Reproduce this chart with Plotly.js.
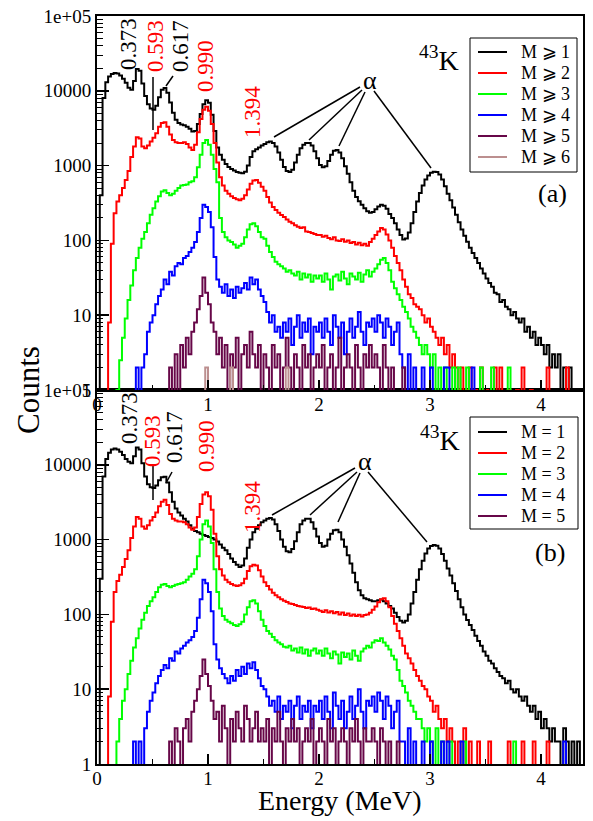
<!DOCTYPE html>
<html><head><meta charset="utf-8">
<script src="https://cdn.plot.ly/plotly-3.0.1.min.js"></script>
<style>html,body{margin:0;padding:0;background:#fff;} #chart{width:593px;height:821px;}</style>
</head><body><div id="chart"></div>
<script>
// Energy bins (MeV)
const energy = [
0,0.025,0.05,0.075,0.1,0.125,0.15,0.175,0.2,0.225,0.25,0.275,0.3,0.325,0.35,0.375,0.4,0.425,0.45,0.475,
0.5,0.525,0.55,0.575,0.6,0.625,0.65,0.675,0.7,0.725,0.75,0.775,0.8,0.825,0.85,0.875,0.9,0.925,0.95,0.975,
1,1.025,1.05,1.075,1.1,1.125,1.15,1.175,1.2,1.225,1.25,1.275,1.3,1.325,1.35,1.375,1.4,1.425,1.45,1.475,
1.5,1.525,1.55,1.575,1.6,1.625,1.65,1.675,1.7,1.725,1.75,1.775,1.8,1.825,1.85,1.875,1.9,1.925,1.95,1.975,
2,2.025,2.05,2.075,2.1,2.125,2.15,2.175,2.2,2.225,2.25,2.275,2.3,2.325,2.35,2.375,2.4,2.425,2.45,2.475,
2.5,2.525,2.55,2.575,2.6,2.625,2.65,2.675,2.7,2.725,2.75,2.775,2.8,2.825,2.85,2.875,2.9,2.925,2.95,2.975,
3,3.025,3.05,3.075,3.1,3.125,3.15,3.175,3.2,3.225,3.25,3.275,3.3,3.325,3.35,3.375,3.4,3.425,3.45,3.475,
3.5,3.525,3.55,3.575,3.6,3.625,3.65,3.675,3.7,3.725,3.75,3.775,3.8,3.825,3.85,3.875,3.9,3.925,3.95,3.975,
4,4.025,4.05,4.075,4.1,4.125,4.15,4.175,4.2,4.225,4.25,4.275,4.3,4.325,4.35,4.375,4.4];

// ---- panel (a): M >= k  (0.1 = empty bin, below axis) ----
const topM1 = [
0.1,400,8000,13000,15500,16800,17300,17000,16000,14500,12800,11000,10300,13500,19500,18500,12500,8500,6600,5800,
5600,6300,8200,10300,10900,9400,7000,5100,4100,3700,3550,3450,3300,3100,2850,2900,3600,4900,6600,7500,
6900,4800,2900,1750,1400,1200,1050,960,900,860,820,800,790,830,1000,1300,1550,1650,1750,1850,
1950,2050,2100,2000,1800,1500,1200,960,850,820,880,1100,1400,1700,1900,2000,2000,1850,1550,1250,
1020,950,980,1150,1400,1580,1620,1500,1250,980,780,600,460,380,335,300,270,245,235,240,
260,285,300,290,265,225,200,170,140,118,103,106,128,170,240,330,430,540,650,740,
800,830,820,760,650,530,420,345,275,220,175,140,115,96,80,68,58,50,42,36,
31,27,24,20,19,15,16,13,12,10,11,9,8,9,6,7,5,6,4,5,
4,3,4,2,3,2,3,1,2,1,2,0.1,1,1,0.1,1,0.1];
const topM2 = [
0.1,0.1,0.1,0.1,8,90,230,330,400,500,640,850,1300,1800,2400,2300,1800,1700,1850,2100,
2350,2700,3300,3700,3800,3300,2600,2200,2050,2000,2000,2050,1950,1750,1620,1900,2800,4200,5600,6100,
5400,3600,2000,1100,700,540,460,420,390,370,355,345,360,400,480,570,630,640,590,520,
460,380,320,280,255,235,218,205,190,178,170,160,152,146,150,132,130,126,122,118,
118,112,115,108,104,110,100,98,104,96,100,92,95,88,93,86,90,85,95,105,
118,132,146,140,120,100,80,62,50,40,30,24,19,17,14,13,12,10,8,9,
7,6,5,4,5,3,4,2,3,2,1,2,0.1,1,2,0.1,1,0.1,2,0.1,
1,0.1,0.1,2,0.1,2,0.1,0.1,1,0.1,0.1,1,0.1,2,0.1,0.1,1,0.1,0.1,0.1,
0.1,0.1,2,0.1,0.1,0.1,0.1,0.1,0.1,2,0.1,0.1,0.1,0.1,0.1,0.1,0.1];
const topM3 = [
0.1,0.1,0.1,0.1,0.1,0.1,0.1,1,2.5,5,9,16,25,40,58,80,105,130,170,220,
270,330,390,450,470,430,400,420,460,500,540,550,560,600,620,700,950,1400,2000,2200,
1900,1400,900,600,200,130,110,100,95,88,80,85,90,110,140,165,170,155,130,110,
105,85,70,60,52,48,45,42,38,40,36,34,38,30,36,32,35,28,34,31,
34,28,36,30,22,33,35,29,38,31,26,36,33,30,37,28,35,40,33,38,
42,48,55,58,50,40,28,23,19,16,13,11,9,7,6,5,4,3,4,3,
2,3,0.1,2,0.1,2,0.1,0.1,2,0.1,2,0.1,0.1,2,0.1,0.1,0.1,0.1,2,0.1,
0.1,0.1,2,0.1,0.1,0.1,0.1,0.1,2,0.1,0.1,0.1,0.1,0.1,0.1,0.1,0.1,0.1,0.1,0.1,
0.1,0.1,0.1,0.1,0.1,0.1,0.1,0.1,0.1,0.1,0.1,0.1,0.1,0.1,0.1,0.1,0.1];
const topM4 = [
0.1,0.1,0.1,0.1,0.1,0.1,0.1,0.1,0.1,0.1,0.1,0.1,0.1,0.1,2,0.1,2,3,6,8,
10,14,18,22,30,26,38,34,45,50,48,58,62,70,80,95,130,200,300,280,
240,150,60,30,24,20,26,18,22,17,24,20,23,27,22,32,26,30,22,18,
15,11,8,10,6,7,5,8,6,9,4,7,10,5,8,6,9,3,7,6,
8,5,9,6,4,10,7,5,8,3,6,9,5,7,11,6,4,8,7,9,
6,10,8,5,9,7,4,6,8,3,2,0.1,3,0.1,2,0.1,0.1,2,0.1,0.1,
2,0.1,0.1,0.1,0.1,2,2,0.1,0.1,0.1,0.1,0.1,0.1,0.1,0.1,2,0.1,0.1,0.1,0.1,
0.1,0.1,0.1,0.1,0.1,0.1,0.1,0.1,0.1,0.1,0.1,0.1,0.1,0.1,0.1,0.1,0.1,0.1,0.1,0.1,
0.1,0.1,0.1,0.1,0.1,0.1,0.1,0.1,0.1,0.1,0.1,0.1,0.1,0.1,0.1,0.1,0.1];
const topM5 = [
0.1,0.1,0.1,0.1,0.1,0.1,0.1,0.1,0.1,0.1,0.1,0.1,0.1,0.1,0.1,0.1,0.1,0.1,0.1,0.1,
0.1,0.1,0.1,0.1,0.1,0.1,2,0.1,3,0.1,4,2,5,3,6,8,12,18,32,20,
14,8,6,3,5,2,4,0.1,3,2,5,0.1,3,4,2,6,3,2,4,0.1,
3,2,0.1,4,2,3,0.1,2,5,2,0.1,3,2,0.1,4,2,3,0.1,2,3,
2,4,0.1,2,3,0.1,2,5,0.1,2,3,2,0.1,4,2,0.1,3,2,4,2,
3,2,0.1,4,2,0.1,2,0.1,0.1,0.1,2,0.1,0.1,0.1,0.1,0.1,0.1,0.1,0.1,0.1,
0.1,0.1,0.1,0.1,0.1,0.1,0.1,0.1,0.1,0.1,0.1,0.1,0.1,0.1,0.1,0.1,0.1,0.1,0.1,0.1,
0.1,0.1,0.1,0.1,0.1,0.1,0.1,0.1,0.1,0.1,0.1,0.1,0.1,0.1,0.1,0.1,0.1,0.1,0.1,0.1,
0.1,0.1,0.1,0.1,0.1,0.1,0.1,0.1,0.1,0.1,0.1,0.1,0.1,0.1,0.1,0.1,0.1];
const topM6 = [
0.1,0.1,0.1,0.1,0.1,0.1,0.1,0.1,0.1,0.1,0.1,0.1,0.1,0.1,0.1,0.1,0.1,0.1,0.1,0.1,
0.1,0.1,0.1,0.1,0.1,0.1,0.1,0.1,0.1,0.1,0.1,0.1,0.1,0.1,0.1,0.1,0.1,0.1,0.1,2,
0.1,0.1,0.1,0.1,0.1,0.1,0.1,0.1,2,0.1,0.1,0.1,0.1,0.1,0.1,0.1,0.1,0.1,0.1,0.1,
0.1,0.1,0.1,0.1,0.1,0.1,0.1,0.1,2,0.1,0.1,0.1,0.1,0.1,0.1,0.1,0.1,0.1,0.1,0.1,
0.1,0.1,0.1,0.1,0.1,0.1,0.1,0.1,0.1,0.1,0.1,0.1,0.1,0.1,0.1,0.1,0.1,0.1,0.1,0.1,
0.1,0.1,0.1,0.1,0.1,0.1,0.1,0.1,0.1,0.1,0.1,0.1,0.1,0.1,0.1,0.1,0.1,0.1,0.1,0.1,
0.1,0.1,0.1,0.1,0.1,0.1,0.1,0.1,0.1,0.1,0.1,0.1,0.1,0.1,0.1,0.1,0.1,0.1,0.1,0.1,
0.1,0.1,0.1,0.1,0.1,0.1,0.1,0.1,0.1,0.1,0.1,0.1,0.1,0.1,0.1,0.1,0.1,0.1,0.1,0.1,
0.1,0.1,0.1,0.1,0.1,0.1,0.1,0.1,0.1,0.1,0.1,0.1,0.1,0.1,0.1,0.1,0.1];

// ---- panel (b): M = k ----
const botM1 = [
0.1,300,7000,12000,14500,16000,16500,16000,15000,13500,12000,11000,10500,13000,17000,16000,10500,7000,5500,5000,
4900,5300,6200,6800,6900,5800,4300,3200,2600,2300,2100,1900,1750,1550,1400,1300,1250,1200,1150,1120,
1080,1050,1000,940,860,780,720,640,560,500,460,430,450,560,780,1000,1250,1400,1550,1700,
1800,1900,1950,1850,1600,1300,1000,800,700,680,750,950,1250,1600,1800,1900,1900,1700,1400,1100,
900,800,830,1000,1200,1330,1350,1250,1000,800,620,480,360,270,210,180,165,160,155,150,
150,155,158,150,140,130,120,105,92,82,78,82,100,140,200,290,400,520,650,760,
820,850,830,760,640,520,410,330,260,205,160,125,100,84,72,62,52,44,38,32,
28,24,22,19,17,15,14,12,13,10,9,10,8,7,8,6,5,6,4,5,
3,4,3,2,3,2,2,0.1,3,2,0.1,2,0.1,2,0.1,0.1,2];
const botM2 = [
0.1,0.1,0.1,0.1,8,80,200,280,340,430,550,720,1050,1500,2000,1900,1500,1400,1550,1800,
2000,2300,2800,3200,3400,2900,2200,1900,1800,1750,1750,1700,1600,1450,1350,1450,2000,3000,4000,4300,
3800,2500,1200,600,400,330,290,270,255,245,240,245,260,300,380,440,460,450,390,320,
270,240,215,195,180,170,160,152,146,140,138,134,130,128,126,122,124,118,120,115,
112,108,114,106,110,104,108,100,106,98,103,96,100,95,99,94,98,100,105,115,
128,145,160,165,150,125,95,75,60,48,38,30,26,22,18,15,13,11,10,8,
7,5,6,4,3,4,2,3,2,0.1,2,0.1,3,0.1,2,0.1,0.1,2,0.1,0.1,
0.1,2,0.1,0.1,0.1,0.1,0.1,0.1,2,0.1,0.1,0.1,0.1,2,0.1,0.1,0.1,2,0.1,0.1,
0.1,0.1,2,0.1,0.1,0.1,0.1,0.1,0.1,0.1,0.1,0.1,0.1,0.1,0.1,0.1,0.1];
const botM3 = [
0.1,0.1,0.1,0.1,0.1,0.1,0.1,2,4,7,10,16,24,36,48,65,85,105,130,150,
170,200,230,250,255,240,230,240,250,255,260,270,290,320,350,400,600,1000,1600,1800,
1500,900,400,200,120,95,85,80,76,72,70,74,80,100,125,150,155,140,110,85,
70,60,55,50,45,42,40,37,36,38,33,35,31,36,30,34,28,33,35,30,
33,28,35,30,26,32,29,22,31,27,30,25,33,28,24,32,35,38,36,42,
45,44,48,42,38,34,28,25,18,13,11,9,7,6,5,4,4,3,2,3,
2,0.1,3,0.1,2,0.1,0.1,2,0.1,0.1,0.1,0.1,2,0.1,0.1,0.1,0.1,0.1,0.1,0.1,
0.1,0.1,0.1,0.1,0.1,0.1,0.1,0.1,0.1,0.1,2,0.1,0.1,0.1,0.1,0.1,0.1,0.1,0.1,0.1,
0.1,0.1,0.1,0.1,0.1,0.1,0.1,0.1,0.1,0.1,0.1,0.1,0.1,0.1,0.1,0.1,0.1];
const botM4 = [
0.1,0.1,0.1,0.1,0.1,0.1,0.1,0.1,0.1,0.1,0.1,0.1,0.1,2,0.1,2,0.1,3,5,7,
9,12,15,18,21,19,26,24,32,30,35,38,42,45,50,60,90,160,290,260,
200,110,40,25,19,16,14,12,15,13,18,15,20,16,22,19,23,18,14,11,
10,8,6,7,5,8,4,6,5,7,3,6,8,4,6,5,7,3,6,5,
7,4,8,5,3,9,6,4,7,3,5,8,4,6,10,5,3,7,6,8,
5,9,7,4,8,6,3,5,7,2,2,0.1,3,0.1,2,0.1,0.1,2,0.1,0.1,
2,0.1,0.1,0.1,2,0.1,2,0.1,0.1,0.1,0.1,2,0.1,0.1,0.1,0.1,0.1,0.1,0.1,0.1,
0.1,0.1,0.1,0.1,0.1,0.1,0.1,0.1,0.1,0.1,0.1,0.1,0.1,0.1,0.1,0.1,0.1,0.1,0.1,0.1,
0.1,0.1,0.1,0.1,0.1,0.1,0.1,0.1,2,0.1,0.1,0.1,0.1,0.1,0.1,0.1,0.1];
const botM5 = [
0.1,0.1,0.1,0.1,0.1,0.1,0.1,0.1,0.1,0.1,0.1,0.1,0.1,0.1,0.1,0.1,0.1,0.1,0.1,0.1,
0.1,0.1,0.1,0.1,0.1,0.1,2,0.1,3,2,0.1,3,4,2,5,7,10,15,25,16,
11,7,4,5,2,6,3,0.1,4,2,5,3,2,6,4,2,3,5,2,3,
2,4,0.1,3,2,5,2,0.1,3,2,4,2,3,0.1,2,3,2,4,0.1,2,
3,2,0.1,4,2,3,0.1,2,3,2,0.1,3,2,4,2,0.1,3,2,2,3,
2,0.1,3,2,0.1,2,0.1,0.1,2,0.1,0.1,0.1,0.1,0.1,0.1,0.1,0.1,0.1,0.1,0.1,
0.1,0.1,0.1,0.1,0.1,0.1,0.1,0.1,0.1,0.1,0.1,0.1,0.1,0.1,0.1,0.1,0.1,0.1,0.1,0.1,
0.1,0.1,0.1,0.1,0.1,0.1,0.1,0.1,0.1,0.1,0.1,0.1,0.1,0.1,0.1,0.1,0.1,0.1,0.1,0.1,
0.1,0.1,0.1,0.1,0.1,0.1,0.1,0.1,0.1,0.1,0.1,0.1,0.1,0.1,0.1,0.1,0.1];

const seriesColors = ['#000000','#ff0000','#00ff00','#0000ff','#670748','#bc8f8f'];
const topNames = ['M \u2A7E 1','M \u2A7E 2','M \u2A7E 3','M \u2A7E 4','M \u2A7E 5','M \u2A7E 6'];
const botNames = ['M = 1','M = 2','M = 3','M = 4','M = 5'];
const yTickVals = [1,10,100,1000,10000,100000];
const yTickText = ['1','10','100','1000','10000','1e+05'];
const xTickVals = [0,1,2,3,4];
const xTickText = ['0','1','2','3','4'];
const xMinorVals = [0.5,1.5,2.5,3.5];
const yMinorVals = [];
for (let d = 1; d < 100000; d *= 10) for (let k = 2; k <= 9; k++) yMinorVals.push(k*d);

// pixel helpers for decorations
const L=97, R=583, T=16, B=764;
const px = x => (x-L)/(R-L);
const py = y => (B-y)/(B-T);
const FONT = 'Liberation Serif';

const traces = [];
[topM1,topM2,topM3,topM4,topM5,topM6].forEach((y,i)=>traces.push({
  x: energy, y: y, type:'scatter', mode:'lines', name: topNames[i], showlegend:false,
  line:{shape:'hv', width:2, color: seriesColors[i]}, xaxis:'x2', yaxis:'y2'
}));
[botM1,botM2,botM3,botM4,botM5].forEach((y,i)=>traces.push({
  x: energy, y: y, type:'scatter', mode:'lines', name: botNames[i], showlegend:false,
  line:{shape:'hv', width:2, color: seriesColors[i]}, xaxis:'x', yaxis:'y'
}));

const tickFont = {family: FONT, size: 19, color:'#000'};
function xAxis(anchor){ return {
  anchor: anchor, domain:[0,1], range:[0,4.378], tickmode:'array', tickvals:xTickVals, ticktext:xTickText,
  ticks:'inside', ticklen:10, tickwidth:1.5, tickcolor:'#000', showline:true, linecolor:'#000', linewidth:2,
  mirror:true, showgrid:false, zeroline:false, tickfont:tickFont, ticklabelstandoff:-4,
  minor:{tickmode:'array', tickvals:xMinorVals, ticks:'inside', ticklen:5, tickwidth:1, tickcolor:'#000', showgrid:false}
};}
function yAxis(anchor, domain){ return {
  anchor: anchor, domain: domain, type:'log', range:[0,5], tickmode:'array', tickvals:yTickVals, ticktext:yTickText,
  ticks:'inside', ticklen:12, tickwidth:1.5, tickcolor:'#000', showline:true, linecolor:'#000', linewidth:2,
  mirror:true, showgrid:false, zeroline:false, tickfont:tickFont,
  minor:{tickmode:'array', tickvals:yMinorVals, ticks:'inside', ticklen:6, tickwidth:1, tickcolor:'#000', showgrid:false}
};}
function yRight(anchor, over){ return {
  anchor: anchor, overlaying: over, side:'right', type:'log', range:[0,5], tickmode:'array', tickvals:yTickVals,
  showticklabels:false, ticks:'outside', ticklen:10, tickwidth:1.5, tickcolor:'#000', showline:false, showgrid:false, zeroline:false,
  minor:{tickmode:'array', tickvals:yMinorVals, ticks:'outside', ticklen:5, tickwidth:1, tickcolor:'#000', showgrid:false}
};}

function txt(text, x, y, size, color, angle, anchor){
  return {text:text, xref:'paper', yref:'paper', x:px(x), y:py(y), xanchor:anchor||'center', yanchor:'middle',
    showarrow:false, textangle: angle||0, font:{family:FONT, size:size, color:color}};
}
function seg(x0,y0,x1,y1,color,width){
  return {type:'line', xref:'paper', yref:'paper', x0:px(x0), y0:py(y0), x1:px(x1), y1:py(y1),
    line:{color:color||'#000', width:width||1.5}};
}

const annotations = [
  // panel (a)
  txt('0.373',128,44,23,'#000',-90), txt('0.593',155,46,23,'#ff0000',-90), txt('0.617',180,46,23,'#000',-90),
  txt('0.990',205,66,23,'#ff0000',-90), txt('1.394',253,112,23,'#ff0000',-90),
  txt('\u03B1',370,80,26,'#000'), txt('<sup>43</sup>K',439,58,28,'#000'), txt('(a)',552,194,26,'#000'),
  // panel (b)
  txt('0.373',130,418,23,'#000',-90), txt('0.593',153,441,23,'#ff0000',-90), txt('0.617',175,437,23,'#000',-90),
  txt('0.990',206,446,23,'#ff0000',-90), txt('1.394',252,507,23,'#ff0000',-90),
  txt('\u03B1',365,461,26,'#000'), txt('<sup>43</sup>K',440,438,28,'#000'), txt('(b)',550,552,26,'#000'),
  // axis titles
  txt('Counts',28,390,31,'#000',-90), txt('Energy (MeV)',340,800,28,'#000')
];
const shapes = [
  seg(153,77,153,130), seg(166,86,173,76),
  seg(360,87,274,137), seg(362,90,309,140), seg(365,92,339,146), seg(374,91,431,168),
  seg(153,466,153,500), seg(166,483,172,472),
  seg(355,468,272,515), seg(357,472,310,515), seg(360,473,338,522), seg(368,472,427,542)
];

// legend boxes (drawn as decorations, rows 21 px apart)
function addLegend(names, left, top, right, bottom, firstRow){
  shapes.push({type:'rect', xref:'paper', yref:'paper', x0:px(left), x1:px(right), y0:py(bottom), y1:py(top),
    line:{color:'#000', width:1}, fillcolor:'#fff'});
  names.forEach((n,i)=>{
    const yy = firstRow + 21*i;
    shapes.push(seg(478, yy, 507, yy, seriesColors[i], 2));
    annotations.push(txt(n, 519, yy, 18, '#000', 0, 'left'));
  });
}
addLegend(topNames, 470, 38, 577, 172, 52);
addLegend(botNames, 470, 417, 578, 529, 432);

const layout = {
  width:593, height:821, margin:{l:97, r:10, t:16, b:57}, paper_bgcolor:'#fff', plot_bgcolor:'#fff',
  font:{family:FONT, color:'#000'}, showlegend:false,
  xaxis: xAxis('y'), yaxis: yAxis('x',[0,0.5]),
  xaxis2: xAxis('y2'), yaxis2: yAxis('x2',[0.5,1]),
  yaxis3: yRight('x','y'), yaxis4: yRight('x2','y2'),
  annotations: annotations, shapes: shapes
};
Plotly.newPlot('chart', traces, layout, {displayModeBar:false, staticPlot:true});
</script></body></html>
